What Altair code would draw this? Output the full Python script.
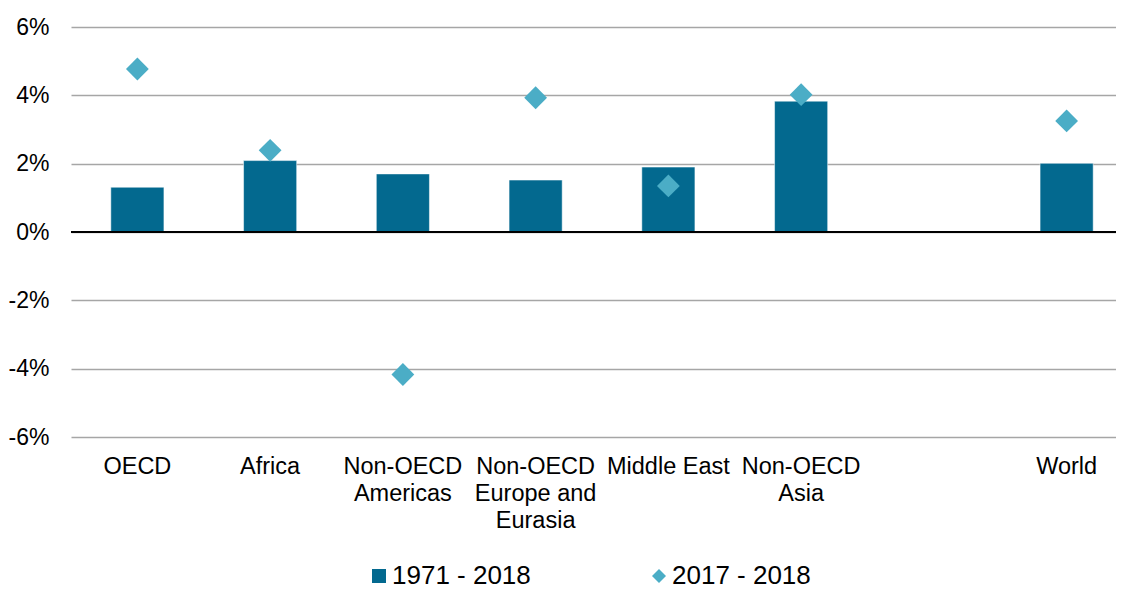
import altair as alt
import pandas as pd

# Categories ('|' marks a line break in the axis label; " " is the empty slot)
categories = ["OECD", "Africa", "Non-OECD|Americas", "Non-OECD|Europe and|Eurasia",
              "Middle East", "Non-OECD|Asia", " ", "World"]
series_names = ["1971 - 2018", "2017 - 2018"]
long_term = [1.31, 2.09, 1.70, 1.52, 1.90, 3.83, None, 2.01]   # % per year, 1971-2018
recent = [4.77, 2.39, -4.17, 3.93, 1.35, 4.02, None, 3.25]      # % 2017-2018
y_ticks = [-6, -4, -2, 0, 2, 4, 6]

BAR_COLOR = "#03698F"
DIAMOND_COLOR = "#4BADC6"
FONT = "Liberation Sans"

rows = []
for c, v in zip(categories, long_term):
    rows.append({"cat": c, "series": series_names[0], "value": v})
for c, v in zip(categories, recent):
    rows.append({"cat": c, "series": series_names[1], "value": v})
df = pd.DataFrame(rows)

x_enc = alt.X(
    "cat:N",
    sort=categories,
    scale=alt.Scale(domain=categories, range=[0, 1062], paddingInner=0.6, paddingOuter=0.3),
    axis=alt.Axis(
        title=None, domain=False, ticks=False, grid=False, labelAngle=0,
        labelExpr="split(datum.value, '|')",
        labelFont=FONT, labelFontSize=23.5, labelColor="#000000",
        labelPadding=17, labelLineHeight=27, labelBaseline="top", labelLimit=0,
    ),
)
y_enc = alt.Y(
    "value:Q",
    scale=alt.Scale(domain=[-6, 6], nice=False),
    axis=alt.Axis(
        title=None, values=y_ticks, labelExpr="datum.value + '%'",
        domain=False, ticks=False, grid=True, gridColor="#A6A6A6", gridWidth=1.6,
        labelFont=FONT, labelFontSize=23, labelColor="#000000", labelPadding=22,
    ),
)

legend_cfg = dict(
    title=None, orient="none", direction="horizontal", legendX=295, legendY=536,
    labelFont=FONT, labelFontSize=26, labelColor="#000000", labelOffset=0,
    symbolSize=196, columnPadding=115, padding=0, symbolStrokeWidth=0,
)
color_enc = alt.Color(
    "series:N",
    scale=alt.Scale(domain=series_names, range=[BAR_COLOR, DIAMOND_COLOR]),
    legend=alt.Legend(**legend_cfg),
)
shape_enc = alt.Shape(
    "series:N",
    scale=alt.Scale(domain=series_names, range=["square", "diamond"]),
    legend=alt.Legend(**legend_cfg),
)

base = alt.Chart(df)

bars = base.transform_filter(
    (alt.datum.series == series_names[0]) & alt.expr.isValid(alt.datum.value)
).mark_bar(stroke="#FFFFFF", strokeWidth=0.5).encode(x=x_enc, y=y_enc, color=color_enc)

zero = alt.Chart(pd.DataFrame({"value": [0]})).mark_rule(color="#000000", strokeWidth=2).encode(
    y=y_enc
)

points = base.transform_filter(
    (alt.datum.series == series_names[1]) & alt.expr.isValid(alt.datum.value)
).mark_point(filled=True, size=520, opacity=1).encode(
    x=x_enc, y=y_enc, color=color_enc, shape=shape_enc
)

chart = alt.layer(bars, zero, points).properties(
    width=1045, height=410,
    background="#FFFFFF",
    autosize=alt.AutoSizeParams(type="none"),
    padding={"left": 63, "top": 19, "right": 0, "bottom": 153},
).configure_view(strokeWidth=0, strokeOpacity=0).configure_axis(domain=False)

chart.save("out.html", embed_options={"renderer": "svg", "actions": False})
